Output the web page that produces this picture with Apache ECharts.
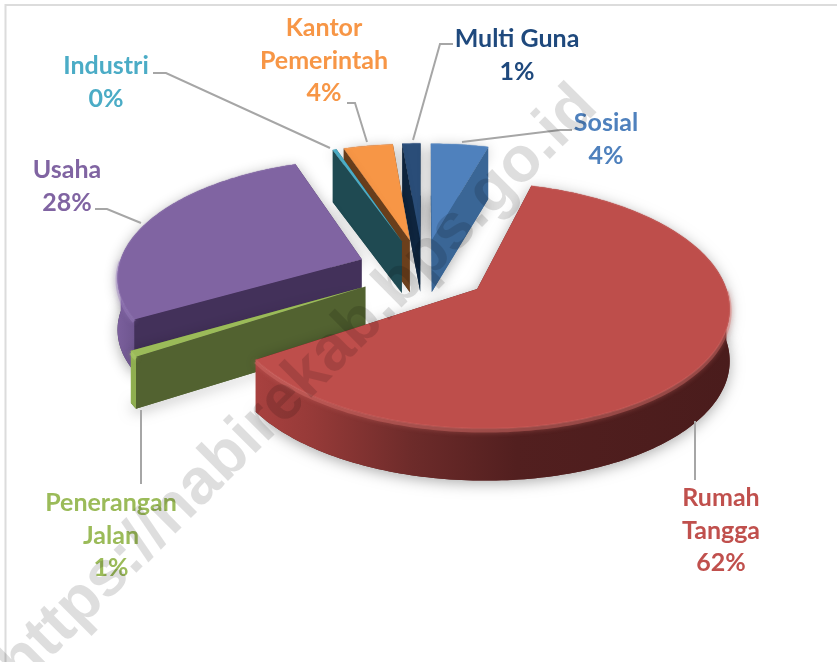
<!DOCTYPE html>
<html>
<head>
<meta charset="utf-8">
<style>html,body{margin:0;padding:0;background:#fff}#c{width:837px;height:662px}</style>
<script src="https://cdn.jsdelivr.net/npm/echarts@6/dist/echarts.min.js"></script>
</head>
<body>
<div id="c"></div>
<script>
// ---- data, clockwise from 12 o'clock ----
const categories = ['Sosial', 'Rumah Tangga', 'Penerangan Jalan', 'Usaha', 'Industri', 'Kantor Pemerintah', 'Multi Guna'];
const values = [4.4, 61.5, 0.8, 27.8, 0.3, 3.8, 1.4];

// ---- styling and layout ----
const labelLines = [['Sosial'], ['Rumah', 'Tangga'], ['Penerangan', 'Jalan'], ['Usaha'], ['Industri'], ['Kantor', 'Pemerintah'], ['Multi Guna']];
const labelColors = ['#4f81bd', '#c0504d', '#9bbb59', '#8064a2', '#4bacc6', '#f79646', '#1f497d'];
const topColors = ['#4f81bd', '#be4e4b', '#9bbb59', '#8064a2', '#4bacc6', '#f79646', '#2a4d78'];
const faceColors = ['#3a6696', '#5a2220', '#526230', '#43315a', '#1f4a52', '#6b3f1c', '#0f2640'];
const rimColors = ['#6a98cf', '#d9706c', '#b4d46f', '#9a80bd', '#6ac4dc', '#fbb077', '#3f659a'];
const wallStops = [
  [[0, '#3a6696'], [1, '#3a6696']],
  [[0, '#a8413f'], [0.12, '#963a38'], [0.33, '#6d2b2a'], [0.55, '#521f1f'], [1, '#4a1c1c']],
  [[0, '#8fae50'], [1, '#8fae50']],
  [[0, '#7a5f9c'], [1, '#6f5690']],
  [[0, '#1f4a52'], [1, '#1f4a52']],
  [[0, '#6b3f1c'], [1, '#6b3f1c']],
  [[0, '#0f2640'], [1, '#0f2640']]
];
const labelPos = [[606, 123], [721, 498], [111, 503], [67, 170], [106, 66], [324, 28], [517, 39]];
const leaders = [
  [[572, 130], [560, 130], [462, 142]],
  [[695, 421], [695, 480]],
  [[141, 410], [141, 484]],
  [[95, 209], [107, 209], [141, 223]],
  [[153, 73], [166, 73], [330, 148]],
  [[347, 103], [355, 103], [367, 142]],
  [[453, 44], [440, 44], [413, 140]]
];
const CX = 423, CY = 270, R = 244, K = 116, P = 0.13, EXPLODE = 66, DEPTH = 52;

// ---- projection of the exploded tilted disc ----
function project(u, v, h) {
  const vn = v / R, s = 1 / (1 + P * vn);
  return [CX + u * s, CY - vn * K * s + (h || 0)];
}
const total = values.reduce((a, b) => a + b, 0);
let acc = 0;
const slices = values.map((val, i) => {
  const t0 = acc / total * 2 * Math.PI;
  acc += val;
  const t1 = acc / total * 2 * Math.PI;
  const m = (t0 + t1) / 2;
  return { i, t0, t1, ou: EXPLODE * Math.sin(m), ov: EXPLODE * Math.cos(m) };
});
const rimPt = (sl, t, h) => project(sl.ou + R * Math.sin(t), sl.ov + R * Math.cos(t), h);
const apex = (sl, h) => project(sl.ou, sl.ov, h);
function arc(sl, a, b, h) {
  const n = Math.max(2, Math.ceil(Math.abs(b - a) / 0.02)), pts = [];
  for (let j = 0; j <= n; j++) pts.push(rimPt(sl, a + (b - a) * j / n, h));
  return pts;
}
function signedArea(q) {
  let s = 0;
  q.forEach((p, j) => { const r = q[(j + 1) % q.length]; s += p[0] * r[1] - r[0] * p[1]; });
  return s;
}
const paintOrder = slices.slice().sort((a, b) => apex(a)[1] - apex(b)[1]).map(s => s.i);

function renderSlice(params, api) {
  const sl = slices[api.value(1)], i = sl.i, ch = [];
  const topOutline = [apex(sl)].concat(arc(sl, sl.t0, sl.t1));
  const botOutline = topOutline.map(p => [p[0], p[1] + DEPTH]);
  const shadow = { shadowBlur: 14, shadowColor: 'rgba(0,0,0,0.32)', shadowOffsetX: 0, shadowOffsetY: 3 };
  ch.push({ type: 'polygon', shape: { points: botOutline }, style: Object.assign({ fill: faceColors[i] }, shadow) });
  ch.push({ type: 'polygon', shape: { points: topOutline }, style: Object.assign({ fill: faceColors[i] }, shadow) });

  // flat cut faces, only those turned towards the viewer
  const face = t => [apex(sl), rimPt(sl, t), rimPt(sl, t, DEPTH), apex(sl, DEPTH)];
  const fStart = face(sl.t0), fEnd = face(sl.t1);
  if (signedArea(fStart) < -1) ch.push({ type: 'polygon', shape: { points: fStart }, style: { fill: faceColors[i] } });
  if (signedArea(fEnd) > 1) ch.push({ type: 'polygon', shape: { points: fEnd }, style: { fill: faceColors[i] } });

  // curved outer wall for the part of the rim that faces front
  const a = Math.max(sl.t0, Math.PI / 2), b = Math.min(sl.t1, 1.5 * Math.PI);
  if (b > a) {
    const wall = arc(sl, a, b).concat(arc(sl, b, a, DEPTH));
    ch.push({
      type: 'polygon', shape: { points: wall },
      style: { fill: { type: 'linear', x: 0, y: 0, x2: 1, y2: 0, colorStops: wallStops[i].map(s => ({ offset: s[0], color: s[1] })) } }
    });
    const rimLo = arc(sl, a, b, 2);
    ch.push({ type: 'polyline', shape: { points: rimLo }, style: { stroke: rimColors[i], lineWidth: 4, fill: 'none', opacity: 0.4, shadowBlur: 5, shadowColor: rimColors[i] } });
  }
  ch.push({ type: 'polygon', shape: { points: topOutline }, style: { fill: topColors[i] } });
  ch.push({ type: 'polyline', shape: { points: arc(sl, sl.t0, sl.t1, 0) }, style: { stroke: rimColors[i], lineWidth: 1.5, fill: 'none', opacity: 0.35 } });
  return { type: 'group', children: ch };
}

function renderLabel(params, api) {
  const i = api.value(1), ch = [];
  ch.push({ type: 'polyline', shape: { points: leaders[i] }, style: { stroke: '#a6a6a6', lineWidth: 2, fill: 'none' } });
  const lines = labelLines[i].concat([Math.round(api.value(0) / total * 100) + '%']);
  lines.forEach((txt, j) => {
    ch.push({
      type: 'text', x: labelPos[i][0], y: labelPos[i][1] + j * 32.5,
      style: { text: txt, fill: labelColors[i], font: 'bold 25px Lato, Carlito, sans-serif', align: 'center', verticalAlign: 'middle' }
    });
  });
  return { type: 'group', children: ch };
}

const chart = echarts.init(document.getElementById('c'), null, { renderer: 'canvas' });
chart.setOption({
  animation: false,
  backgroundColor: '#ffffff',
  series: [
    { type: 'custom', coordinateSystem: 'none', silent: true, z: 2, renderItem: renderSlice,
      data: paintOrder.map(i => ({ name: categories[i], value: [values[i], i] })) },
    { type: 'custom', coordinateSystem: 'none', silent: true, z: 3, renderItem: renderLabel,
      data: values.map((v, i) => ({ name: categories[i], value: [v, i] })) }
  ],
  graphic: [
    { type: 'polyline', z: 1, silent: true, shape: { points: [[5.5, 662], [5.5, 5], [837, 5]] }, style: { stroke: '#dcdcdc', lineWidth: 2, fill: 'none' } },
    { type: 'text', z: 10, silent: true, x: 298, y: 386, rotation: 45 * Math.PI / 180,
      style: { text: 'https://nabirekab.bps.go.id', fill: 'rgba(0,0,0,0.13)', font: 'bold 64px "Liberation Sans", sans-serif', align: 'center', verticalAlign: 'middle' } }
  ]
});
</script>
</body>
</html>
